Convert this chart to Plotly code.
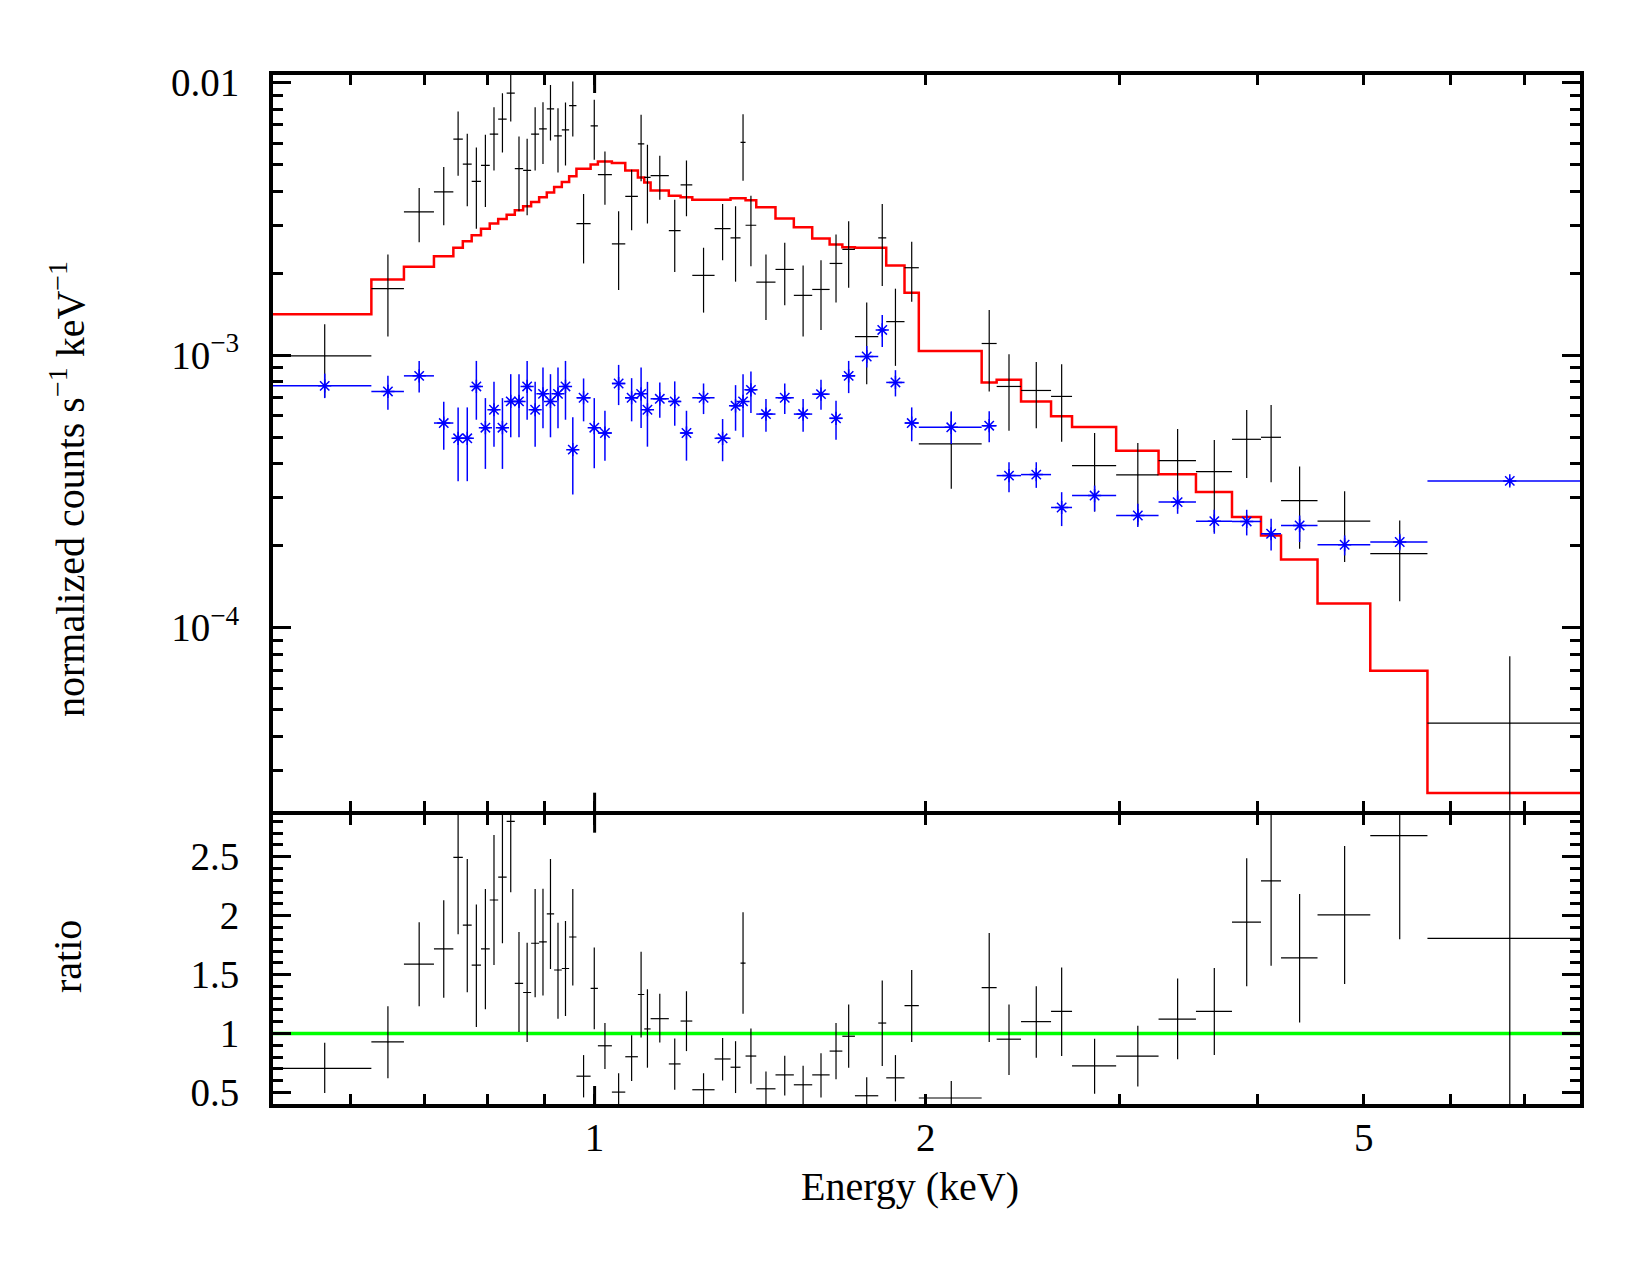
import math
import plotly.graph_objects as go

# ---------------- data ----------------
# energy bin edges (keV)
edges = [0.5102, 0.6268, 0.6710, 0.7145, 0.7441, 0.7590, 0.7732, 0.7884, 0.8030, 0.8173,
         0.8319, 0.8462, 0.8611, 0.8756, 0.8904, 0.9048, 0.9188, 0.9337, 0.9481, 0.9627,
         0.9917, 1.0069, 1.0368, 1.0663, 1.0948, 1.1095, 1.1243, 1.1680, 1.1971, 1.2268,
         1.2853, 1.3290, 1.3571, 1.3714, 1.4025, 1.4601, 1.5172, 1.5767, 1.6352, 1.6793,
         1.7241, 1.8103, 1.8408, 1.9126, 1.9707, 2.2477, 2.3193, 2.4407, 2.5989, 2.7156,
         2.9782, 3.2545, 3.5195, 3.7951, 4.0325, 4.2051, 4.5389, 5.0687, 5.7128, 7.861]

# normalized counts, units of 1e-3 counts s^-1 keV^-1
black_val = [0.994, 1.754, 3.355, 3.972, 6.206, 5.027, 4.343, 4.968, 6.474, 7.346,
             9.147, 4.833, 4.764, 6.474, 6.770, 8.013, 6.383, 6.711, 8.237, 3.041,
             6.944, 4.595, 2.563, 3.827, 5.966, 4.491, 4.556, 2.866, 4.213, 1.963,
             2.915, 2.696, 6.033, 2.998, 1.854, 2.064, 1.658, 1.743, 2.171, 2.443,
             1.170, 2.696, 1.328, 2.094, 0.4725, 1.104, 0.768, 0.7424, 0.706, 0.3936,
             0.3638, 0.4104, 0.3741, 0.4915, 0.4999, 0.2930, 0.2462, 0.1870, 0.04466]
black_hi = [1.298, 2.342, 4.108, 4.903, 7.83, 6.49, 5.783, 6.434, 8.128, 9.147,
            11.6, 6.343, 6.223, 8.128, 8.478, 9.808, 8.06, 8.45, 10.09, 3.905,
            8.65, 5.59, 3.373, 4.793, 7.617, 5.916, 5.391, 3.722, 5.183, 2.478,
            3.589, 3.517, 7.663, 3.849, 2.342, 2.585, 2.134, 2.232, 2.771, 3.1,
            1.56, 3.589, 1.754, 2.606, 0.617, 1.465, 1.008, 0.945, 0.927, 0.5183,
            0.4764, 0.5359, 0.4887, 0.6292, 0.6561, 0.3902, 0.3171, 0.2475, 0.0787]
black_lo = [0.700, 1.170, 2.598, 2.998, 4.556, 3.517, 2.908, 3.499, 4.764, 5.544,
            7.2, 3.373, 3.261, 4.764, 5.027, 6.135, 4.685, 4.968, 6.343, 2.171,
            5.214, 3.568, 1.733, 2.874, 4.343, 3.041, 3.722, 2.018, 3.234, 1.433,
            2.232, 1.861, 4.368, 2.122, 1.346, 1.524, 1.170, 1.238, 1.56, 1.769,
            0.783, 1.793, 0.914, 1.572, 0.3234, 0.7363, 0.5284, 0.5393, 0.4818, 0.2671,
            0.2374, 0.2891, 0.2245, 0.3548, 0.342, 0.1951, 0.1744, 0.1252, 0.001]

blue_val = [0.772, 0.7363, 0.840, 0.5639, 0.4956, 0.4956, 0.768, 0.542, 0.6308, 0.542,
            0.677, 0.677, 0.768, 0.6308, 0.7216, 0.677, 0.7216, 0.768, 0.4503, 0.698,
            0.542, 0.5183, 0.7876, 0.698, 0.7216, 0.6308, 0.692, 0.677, 0.5183, 0.698,
            0.4956, 0.6523, 0.677, 0.7464, 0.6082, 0.698, 0.6082, 0.7198, 0.5866, 0.840,
            0.989, 1.238, 0.7945, 0.5639, 0.5438, 0.5512, 0.3617, 0.3648, 0.2763, 0.3056,
            0.2582, 0.2891, 0.2462, 0.2455, 0.2213, 0.2374, 0.2017, 0.2064, 0.3459]
blue_hi = [0.856, 0.840, 0.953, 0.6746, 0.6435, 0.6435, 0.953, 0.696, 0.7985, 0.696,
           0.852, 0.852, 0.953, 0.7985, 0.9016, 0.852, 0.9016, 0.953, 0.5916, 0.8216,
           0.696, 0.6254, 0.9215, 0.8237, 0.9016, 0.7985, 0.7945, 0.8016, 0.6254, 0.7876,
           0.5832, 0.7766, 0.852, 0.8717, 0.6902, 0.7876, 0.6902, 0.8121, 0.6804, 0.953,
           1.081, 1.404, 0.8813, 0.6435, 0.6223, 0.6223, 0.4049, 0.4049, 0.3144, 0.3325,
           0.2849, 0.3187, 0.271, 0.271, 0.2511, 0.2582, 0.2182, 0.2213, 0.3555]
blue_lo = [0.696, 0.6308, 0.730, 0.4503, 0.345, 0.345, 0.5798, 0.3827, 0.4618, 0.3827,
           0.4999, 0.4999, 0.5798, 0.4618, 0.5393, 0.4999, 0.5393, 0.5798, 0.3083, 0.572,
           0.3849, 0.4104, 0.6561, 0.572, 0.541, 0.4618, 0.5896, 0.5512, 0.4104, 0.6082,
           0.4083, 0.5284, 0.4999, 0.6135, 0.524, 0.6082, 0.524, 0.6308, 0.4899, 0.726,
           0.9016, 1.072, 0.706, 0.4833, 0.4725, 0.4793, 0.3144, 0.3261, 0.2361, 0.2671,
           0.2342, 0.2619, 0.2213, 0.2182, 0.1923, 0.2064, 0.1843, 0.1923, 0.3325]

model = [1.413, 1.897, 2.112, 2.308, 2.478, 2.619, 2.755, 2.908, 3.041, 3.163,
         3.279, 3.400, 3.517, 3.650, 3.794, 3.957, 4.142, 4.321, 4.530, 4.833,
         5.012, 5.140, 5.070, 4.764, 4.491, 4.306, 4.024, 3.849, 3.794, 3.722,
         3.722, 3.762, 3.762, 3.699, 3.487, 3.171, 2.947, 2.680, 2.547, 2.490,
         2.478, 2.478, 2.134, 1.696, 1.037, 0.7945, 0.8121, 0.677, 0.5966, 0.5453,
         0.4465, 0.366, 0.3152, 0.2548, 0.2182, 0.1782, 0.1227, 0.06961, 0.02475]

ratio_val = [0.705, 0.929, 1.589, 1.718, 2.495, 1.920, 1.581, 1.718, 2.133, 2.327,
             2.801, 1.426, 1.348, 1.766, 1.777, 2.015, 1.539, 1.552, 1.819, 0.638,
             1.384, 0.896, 0.503, 0.803, 1.331, 1.039, 1.126, 0.742, 1.106, 0.523,
             0.784, 0.714, 1.598, 0.809, 0.531, 0.649, 0.565, 0.649, 0.851, 0.977,
             0.472, 1.089, 0.624, 1.236, 0.453, 1.390, 0.952, 1.101, 1.188, 0.725,
             0.809, 1.123, 1.188, 1.945, 2.296, 1.642, 2.007, 2.680, 1.808]
ratio_hi = [0.921, 1.232, 1.945, 2.130, 3.3, 2.481, 2.094, 2.226, 2.684, 3.0,
            3.5, 1.861, 1.771, 2.226, 2.229, 2.481, 1.939, 1.954, 2.226, 0.817,
            1.729, 1.089, 0.663, 0.986, 1.695, 1.375, 1.337, 0.958, 1.359, 0.663,
            0.963, 0.935, 2.029, 1.042, 0.677, 0.811, 0.727, 0.832, 1.089, 1.247,
            0.630, 1.449, 0.817, 1.539, 0.598, 1.853, 1.247, 1.401, 1.561, 0.955,
            1.067, 1.468, 1.556, 2.487, 3.0, 2.184, 2.591, 3.5, 3.6]
ratio_lo = [0.495, 0.621, 1.232, 1.303, 1.842, 1.350, 1.056, 1.205, 1.581, 1.766,
            2.198, 1.013, 0.929, 1.308, 1.322, 1.547, 1.126, 1.148, 1.407, 0.458,
            1.036, 0.699, 0.36, 0.598, 0.966, 0.710, 0.924, 0.523, 0.851, 0.38,
            0.601, 0.495, 1.168, 0.573, 0.38, 0.475, 0.39, 0.458, 0.613, 0.710,
            0.30, 0.725, 0.424, 0.929, 0.30, 0.929, 0.649, 0.795, 0.809, 0.489,
            0.551, 0.781, 0.817, 1.401, 1.575, 1.093, 1.421, 1.800, 0.0]

x_tick_vals = [1, 2, 5]
x_tick_text = ["1", "2", "5"]
x_minor_vals = [0.6, 0.7, 0.8, 0.9, 3, 4, 6, 7]
y_top_tick_vals = [1e-4, 1e-3, 1e-2]
y_top_tick_text = ["10<sup>\u22124</sup>", "10<sup>\u22123</sup>", "0.01"]
y_top_minor_vals = ([m * 1e-5 for m in range(2, 10)] + [m * 1e-4 for m in range(2, 10)]
                    + [m * 1e-3 for m in range(2, 10)])
y_bot_tick_vals = [0.5, 1, 1.5, 2, 2.5]
y_bot_tick_text = ["0.5", "1", "1.5", "2", "2.5"]

# ---------------- derived ----------------
S = 1e-3
lo_e = edges[:-1]
hi_e = edges[1:]
centers = [(a + b) / 2 for a, b in zip(lo_e, hi_e)]
ex_m = [c - a for c, a in zip(centers, lo_e)]
ex_p = [b - c for c, b in zip(centers, hi_e)]

def sc(v):
    return [x * S for x in v]

FONT = "Liberation Serif"
BLACK = "black"
BLUE = "#0000ff"

fig = go.Figure()

# model (red step)
fig.add_trace(go.Scatter(
    x=edges, y=sc(model + [model[-1]]), mode="lines", line=dict(color="#ff0000", width=2.5, shape="hv"),
    xaxis="x2", yaxis="y2", showlegend=False, hoverinfo="skip"))

# black data
fig.add_trace(go.Scatter(
    x=centers, y=sc(black_val), mode="markers", marker=dict(size=1, color=BLACK),
    error_x=dict(type="data", symmetric=False, array=ex_p, arrayminus=ex_m, width=0, thickness=1.2, color=BLACK),
    error_y=dict(type="data", symmetric=False,
                 array=[(h - v) * S for h, v in zip(black_hi, black_val)],
                 arrayminus=[(v - l) * S for v, l in zip(black_val, black_lo)],
                 width=0, thickness=1.2, color=BLACK),
    xaxis="x2", yaxis="y2", showlegend=False))

# blue data
fig.add_trace(go.Scatter(
    x=centers, y=sc(blue_val), mode="markers",
    marker=dict(symbol="asterisk-open", size=11, color=BLUE, line=dict(color=BLUE, width=1.5)),
    error_x=dict(type="data", symmetric=False, array=ex_p, arrayminus=ex_m, width=0, thickness=1.5, color=BLUE),
    error_y=dict(type="data", symmetric=False,
                 array=[(h - v) * S for h, v in zip(blue_hi, blue_val)],
                 arrayminus=[(v - l) * S for v, l in zip(blue_val, blue_lo)],
                 width=0, thickness=1.5, color=BLUE),
    xaxis="x2", yaxis="y2", showlegend=False))

# ratio
fig.add_trace(go.Scatter(
    x=[edges[0], edges[-1]], y=[1, 1], mode="lines", line=dict(color="#00ff00", width=3.5),
    xaxis="x", yaxis="y", showlegend=False, hoverinfo="skip"))
fig.add_trace(go.Scatter(
    x=centers, y=ratio_val, mode="markers", marker=dict(size=1, color=BLACK),
    error_x=dict(type="data", symmetric=False, array=ex_p, arrayminus=ex_m, width=0, thickness=1.2, color=BLACK),
    error_y=dict(type="data", symmetric=False,
                 array=[h - v for h, v in zip(ratio_hi, ratio_val)],
                 arrayminus=[v - l for v, l in zip(ratio_val, ratio_lo)],
                 width=0, thickness=1.2, color=BLACK),
    xaxis="x", yaxis="y", showlegend=False))

SPLIT = 0.2831
GAP = 4.0 / 1029  # so the two 4px axis lines at the panel boundary coincide
xr = [math.log10(edges[0]), math.log10(edges[-1])]
tickfont = dict(family=FONT, size=39, color=BLACK)

common_x = dict(type="log", range=xr, ticks="inside", ticklen=10, tickwidth=3, tickcolor=BLACK,
                showline=True, linewidth=4, linecolor=BLACK, mirror="ticks", showgrid=False,
                zeroline=False, tickmode="array", tickvals=x_tick_vals, ticktext=x_tick_text,
                tickfont=tickfont,
                minor=dict(tickmode="array", tickvals=x_minor_vals, ticks="inside", ticklen=10,
                           tickwidth=3, tickcolor=BLACK, showgrid=False))

common_y = dict(ticks="inside", ticklen=18, tickwidth=3, tickcolor=BLACK, showline=True, linewidth=4,
                linecolor=BLACK, mirror="ticks", showgrid=False, zeroline=False, tickmode="array",
                tickfont=tickfont, ticklabelstandoff=22)

fig.update_layout(
    width=1650, height=1275,
    margin=dict(l=273, r=70, t=75, b=171),
    paper_bgcolor="white", plot_bgcolor="white",
    font=dict(family=FONT, size=39, color=BLACK),
    xaxis=dict(domain=[0, 1], anchor="y", ticklabelstandoff=-4, **common_x),
    xaxis2=dict(domain=[0, 1], anchor="y2", matches="x", showticklabels=False, **common_x),
    yaxis=dict(domain=[0, SPLIT - GAP / 2], anchor="x", range=[0.402, 2.857],
               tickvals=y_bot_tick_vals, ticktext=y_bot_tick_text,
               minor=dict(tickmode="linear", tick0=0, dtick=0.1, ticks="inside", ticklen=10,
                          tickwidth=3, tickcolor=BLACK, showgrid=False),
               **common_y),
    yaxis2=dict(domain=[SPLIT + GAP / 2, 1], anchor="x2", type="log", range=[-4.671, -1.972],
                tickvals=y_top_tick_vals, ticktext=y_top_tick_text,
                minor=dict(tickmode="array", tickvals=y_top_minor_vals, ticks="inside", ticklen=10,
                           tickwidth=3, tickcolor=BLACK, showgrid=False),
                **common_y),
    showlegend=False,
)

# longer major tick at 1 keV (top & bottom of each panel)
for anchor, d in [(0, 18), (SPLIT - GAP / 2, -18), (SPLIT + GAP / 2, 18), (1, -18)]:
    fig.add_shape(type="line", xref="x", yref="paper", x0=1, x1=1,
                  ysizemode="pixel", yanchor=anchor, y0=0, y1=d,
                  line=dict(color=BLACK, width=3))

# axis titles
fig.add_annotation(text="Energy (keV)", xref="paper", yref="paper", x=0.4874, y=-0.080,
                   showarrow=False, font=dict(family=FONT, size=40, color=BLACK),
                   xanchor="center", yanchor="middle")
fig.add_annotation(text="normalized counts s<sup>\u22121</sup> keV<sup>\u22121</sup>",
                   xref="paper", yref="paper", x=-0.1568, y=0.5977, textangle=-90,
                   showarrow=False, font=dict(family=FONT, size=40, color=BLACK),
                   xanchor="center", yanchor="middle")
fig.add_annotation(text="ratio", xref="paper", yref="paper", x=-0.1568, y=0.1429, textangle=-90,
                   showarrow=False, font=dict(family=FONT, size=40, color=BLACK),
                   xanchor="center", yanchor="middle")

fig.write_html("out.html")
